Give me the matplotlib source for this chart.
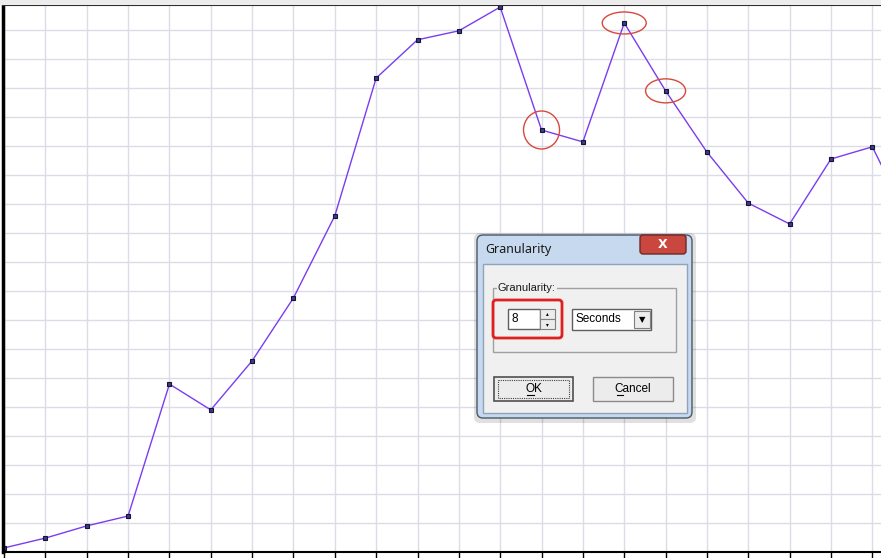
import matplotlib.pyplot as plt
from matplotlib.patches import Rectangle, FancyBboxPatch, Ellipse
import numpy as np

# Data (one sample per grid step, last one runs off the right edge)
values = [1.4, 4.8, 9.0, 12.4, 57.9, 49.0, 65.9, 87.6, 115.9, 163.4, 176.6, 179.7,
          187.9, 145.5, 141.4, 182.4, 159.0, 137.9, 120.3, 113.1, 135.5, 139.7, 111.0]
steps = np.arange(len(values))
circled = [13, 15, 16]
circle_px = [(36, 38), (44, 22), (40, 24)]

W, H = 881, 558
fig = plt.figure(figsize=(W / 100, H / 100), dpi=100, facecolor='white')

# Chart
ax = fig.add_axes([3 / W, 6 / H, (W - 3) / W, 547 / H])
ax.plot(steps, values, color='#7b3cf0', lw=1, marker='s', markersize=3.5,
        markerfacecolor='#3c3c80', markeredgecolor='#141438', markeredgewidth=0.8)
ax.set_xticks(steps)
ax.set_yticks(np.arange(0, 190, 10))
ax.set_xlim(-0.025, 21.21)
ax.set_ylim(0, 188.6)
ax.grid(True, color='#dcdce6', lw=1)
ax.set_axisbelow(True)
ax.tick_params(axis='x', direction='out', length=5, width=1, color='black', labelbottom=False)
ax.tick_params(axis='y', length=0, labelleft=False)
ax.spines['right'].set_visible(False)
ax.spines['left'].set_linewidth(2.5)
ax.spines['top'].set_linewidth(1.5)
ax.spines['bottom'].set_linewidth(1.5)

# Overlay in pixel coordinates for the screenshot decorations
ov = fig.add_axes([0, 0, 1, 1], zorder=10)
ov.set_xlim(0, W)
ov.set_ylim(H, 0)
ov.axis('off')
ov.patch.set_alpha(0)
ov.add_patch(Rectangle((0, 0), W, 4, color='#ececec'))

fig.canvas.draw()
for i, (w, h) in zip(circled, circle_px):
    dx, dy = ax.transData.transform((steps[i], values[i]))
    ov.add_patch(Ellipse((dx, H - dy), w, h, fill=False, ec='#d9483b', lw=1))

# Dialog window
ov.add_patch(FancyBboxPatch((474, 233), 222, 190, boxstyle='round,pad=0,rounding_size=6',
                            fc='#000000', ec='none', alpha=0.12))
ov.add_patch(FancyBboxPatch((477, 235), 215, 183, boxstyle='round,pad=0,rounding_size=6',
                            fc='#c6d9ee', ec='#4a5868', lw=1))
ov.add_patch(Rectangle((483, 264), 204, 149, fc='#f0f0f0', ec='#8ea4bc', lw=1))
ov.text(485, 250, 'Granularity', fontsize=9, family='Noto Sans', va='center', color='#1a1a1a')
ov.add_patch(FancyBboxPatch((640, 235), 46, 19, boxstyle='round,pad=0,rounding_size=3',
                            fc='#c9473e', ec='#6b2a25', lw=1))
ov.text(663, 244.5, 'X', fontsize=9, weight='bold', color='white', ha='center', va='center')

# Group box
ov.add_patch(Rectangle((493, 288), 183, 64, fill=False, ec='#a0a0a0', lw=1))
ov.text(498, 288, 'Granularity:', fontsize=8, family='Liberation Sans', va='center',
        color='#1a1a1a', bbox=dict(fc='#f0f0f0', ec='none', pad=0.5))
ov.add_patch(Rectangle((508, 309), 32, 20, fc='white', ec='#606060', lw=1))
ov.text(511, 319.5, '8', fontsize=8.5, family='Liberation Sans', va='center')
ov.add_patch(Rectangle((540, 309), 15, 10, fc='#ececec', ec='#808080', lw=0.8))
ov.add_patch(Rectangle((540, 319), 15, 10, fc='#ececec', ec='#808080', lw=0.8))
ov.text(547.5, 313.5, '\u25b4', fontsize=4, ha='center', va='center')
ov.text(547.5, 324.5, '\u25be', fontsize=4, ha='center', va='center')
ov.add_patch(FancyBboxPatch((493, 300), 69, 38, boxstyle='round,pad=0,rounding_size=3',
                            fill=False, ec='#e02020', lw=2))
ov.add_patch(Rectangle((572, 309), 79, 21, fc='white', ec='#606060', lw=1))
ov.text(576, 319.5, 'Seconds', fontsize=8.5, family='Liberation Sans', va='center')
ov.add_patch(Rectangle((634, 311), 16, 17, fc='#ececec', ec='#808080', lw=0.8))
ov.text(642, 319.5, '\u25bc', fontsize=6, ha='center', va='center')

# Buttons
ov.add_patch(Rectangle((494, 377), 79, 24, fc='#ececec', ec='#505050', lw=1.2))
ov.add_patch(Rectangle((498, 380), 71, 18, fill=False, ec='#404040', lw=0.8, ls=(0, (1, 1))))
ov.text(533.5, 389, 'OK', fontsize=8.5, family='Liberation Sans', ha='center', va='center')
ov.plot([527, 534], [395, 395], color='black', lw=0.8)
ov.add_patch(Rectangle((593, 377), 80, 24, fc='#ececec', ec='#8a8a8a', lw=1))
ov.text(633, 389, 'Cancel', fontsize=8.5, family='Liberation Sans', ha='center', va='center')
ov.plot([617, 623], [395, 395], color='black', lw=0.8)

fig.savefig('out.png', dpi=100, facecolor=fig.get_facecolor())
